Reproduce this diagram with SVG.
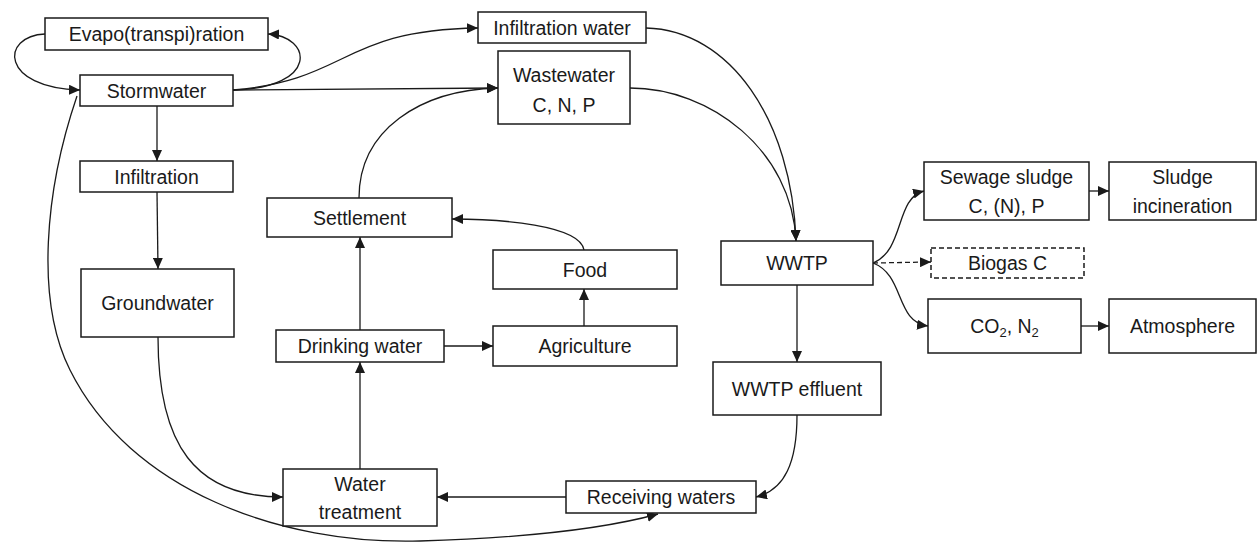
<svg xmlns="http://www.w3.org/2000/svg" width="1258" height="542" viewBox="0 0 1258 542">
  <style>
    .box { fill: #ffffff; stroke: #1a1a1a; stroke-width: 1.5; }
    .dash { stroke-dasharray: 5 3; }
    .lbl { font-family: "Liberation Sans", Arial, sans-serif; font-size: 19.5px; fill: #1a1a1a; text-anchor: middle; }
    .edge { fill: none; stroke: #1a1a1a; stroke-width: 1.3; marker-end: url(#arrow); }
  </style>
  <defs>
    <marker id="arrow" markerUnits="userSpaceOnUse" markerWidth="11" markerHeight="10" refX="11" refY="5" orient="auto">
      <path d="M0,0 L11,5 L0,10 z" fill="#1a1a1a"/>
    </marker>
  </defs>
  <rect width="1258" height="542" fill="#ffffff"/>

  <!-- connectors -->
  <g id="connectors">
    <path class="edge" d="M45,34 C0,36 0,88 80,90"/>
    <path class="edge" d="M233,90 C320,88 312,36 268,34"/>
    <path class="edge" d="M233,90 C350,80 340,30 478,28"/>
    <path class="edge" d="M233,90 L498,88"/>
    <path class="edge" d="M157,106 L157,161"/>
    <path class="edge" d="M157,192 L158,269"/>
    <path class="edge" d="M158,337 C158,445 195,497 283,497"/>
    <path class="edge" d="M77,96 C45,190 35,300 70,370 C130,490 280,545 420,541 C520,538 600,530 658,514"/>
    <path class="edge" d="M359,198 C359,130 420,90 498,88"/>
    <path class="edge" d="M584,250 C580,225 500,219 452,219"/>
    <path class="edge" d="M360,330 L360,237"/>
    <path class="edge" d="M444,346 L493,346"/>
    <path class="edge" d="M584,326 L584,289"/>
    <path class="edge" d="M360,469 L360,362"/>
    <path class="edge" d="M566,497 L437,497"/>
    <path class="edge" d="M646,28 C730,30 792,120 796,241"/>
    <path class="edge" d="M630,88 C710,88 792,150 796,241"/>
    <path class="edge" d="M797,285 L797,362"/>
    <path class="edge" d="M797,415 C797,462 785,490 756,497"/>
    <path class="edge" d="M873,263 C905,250 895,198 924,191"/>
    <path class="edge dash" d="M873,263 L931,262"/>
    <path class="edge" d="M873,263 C905,275 895,322 928,326"/>
    <path class="edge" d="M1089,191 L1109,191"/>
    <path class="edge" d="M1081,326 L1109,326"/>
  </g>

  <!-- nodes -->
  <g id="evapotranspiration">
    <rect class="box" x="45" y="18" width="223" height="32"/>
    <text class="lbl" x="156.5" y="41">Evapo(transpi)ration</text>
  </g>
  <g id="stormwater">
    <rect class="box" x="80" y="75" width="153" height="31"/>
    <text class="lbl" x="156.5" y="97.5">Stormwater</text>
  </g>
  <g id="infiltration-water">
    <rect class="box" x="478" y="12" width="168" height="31"/>
    <text class="lbl" x="562" y="34.5">Infiltration water</text>
  </g>
  <g id="wastewater">
    <rect class="box" x="498" y="51" width="132" height="73"/>
    <text class="lbl" x="564" y="82">Wastewater</text>
    <text class="lbl" x="564" y="112">C, N, P</text>
  </g>
  <g id="infiltration">
    <rect class="box" x="80" y="161" width="153" height="31"/>
    <text class="lbl" x="156.5" y="183.5">Infiltration</text>
  </g>
  <g id="groundwater">
    <rect class="box" x="81" y="269" width="153" height="68"/>
    <text class="lbl" x="157.5" y="310">Groundwater</text>
  </g>
  <g id="settlement">
    <rect class="box" x="267" y="198" width="185" height="39"/>
    <text class="lbl" x="359.5" y="224.5">Settlement</text>
  </g>
  <g id="food">
    <rect class="box" x="493" y="250" width="184" height="39"/>
    <text class="lbl" x="585" y="276.5">Food</text>
  </g>
  <g id="drinking-water">
    <rect class="box" x="276" y="330" width="168" height="32"/>
    <text class="lbl" x="360" y="353">Drinking water</text>
  </g>
  <g id="agriculture">
    <rect class="box" x="493" y="326" width="184" height="40"/>
    <text class="lbl" x="585" y="353">Agriculture</text>
  </g>
  <g id="water-treatment">
    <rect class="box" x="283" y="469" width="154" height="57"/>
    <text class="lbl" x="360" y="491">Water</text>
    <text class="lbl" x="360" y="519">treatment</text>
  </g>
  <g id="receiving-waters">
    <rect class="box" x="566" y="481" width="190" height="32"/>
    <text class="lbl" x="661" y="504">Receiving waters</text>
  </g>
  <g id="wwtp">
    <rect class="box" x="721" y="241" width="152" height="44"/>
    <text class="lbl" x="797" y="270">WWTP</text>
  </g>
  <g id="wwtp-effluent">
    <rect class="box" x="713" y="362" width="168" height="53"/>
    <text class="lbl" x="797" y="395.5">WWTP effluent</text>
  </g>
  <g id="sewage-sludge">
    <rect class="box" x="924" y="162" width="165" height="58"/>
    <text class="lbl" x="1006.5" y="184">Sewage sludge</text>
    <text class="lbl" x="1006.5" y="213">C, (N), P</text>
  </g>
  <g id="sludge-incineration">
    <rect class="box" x="1109" y="162" width="147" height="58"/>
    <text class="lbl" x="1182.5" y="184">Sludge</text>
    <text class="lbl" x="1182.5" y="213">incineration</text>
  </g>
  <g id="biogas">
    <rect class="box dash" x="931" y="248" width="153" height="30"/>
    <text class="lbl" x="1007.5" y="270">Biogas C</text>
  </g>
  <g id="co2-n2">
    <rect class="box" x="928" y="299" width="153" height="54"/>
    <text class="lbl" x="1004.5" y="333">CO<tspan font-size="13" dy="4">2</tspan><tspan dy="-4">, N</tspan><tspan font-size="13" dy="4">2</tspan></text>
  </g>
  <g id="atmosphere">
    <rect class="box" x="1109" y="299" width="147" height="54"/>
    <text class="lbl" x="1182.5" y="333">Atmosphere</text>
  </g>
</svg>
